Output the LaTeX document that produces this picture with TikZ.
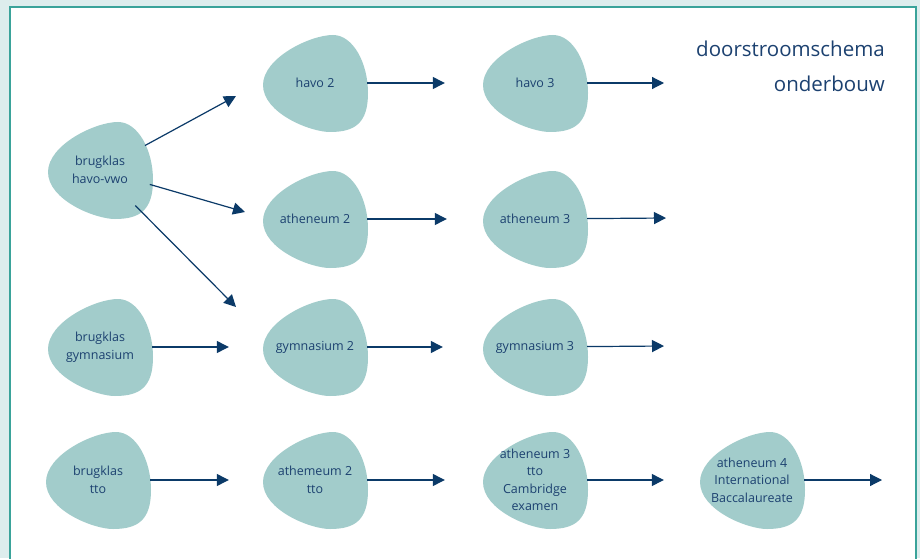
\documentclass[tikz,border=0pt]{standalone}
\usepackage{fontspec}
\setmainfont{Open Sans}
\usetikzlibrary{arrows.meta,shapes.geometric,backgrounds}

\definecolor{outerbg}{HTML}{DDEDED}
\definecolor{framecol}{HTML}{3AA39A}
\definecolor{blobfill}{HTML}{A2CCCB}
\definecolor{textblue}{HTML}{1C4170}
\definecolor{arrowblue}{HTML}{0B3A68}

\tikzset{
  blob/.style={ellipse, minimum width=104pt, minimum height=96pt, inner sep=0pt,
    inner xsep=-16pt, align=center, text=textblue, font=\fontsize{12.5}{17.5}\selectfont},
  flow/.style={-{Triangle[length=12pt,width=12pt]}, draw=arrowblue, line width=1.2pt},
  title/.style={anchor=base east, inner sep=0pt, text=textblue,
    font=\fontsize{20.5}{24}\selectfont}
}

\begin{document}
\begin{tikzpicture}[x=1pt, y=1pt]

    \useasboundingbox (0,0) rectangle (920,558);

    \node[title] (ttl) at (885,501) {doorstroomschema};
    \node[title] (ttl2) at (885,466) {onderbouw};

    \node[blob] (b1) at (100,388) {brugklas\\havo-vwo};
    \node[blob] (b2) at (100,211) {brugklas\\gymnasium};
    \node[blob] (b3) at (98,78) {brugklas\\tto};
    \node[blob] (h2) at (315,475) {havo 2};
    \node[blob] (a2) at (315,339) {atheneum 2};
    \node[blob] (g2) at (315,211) {gymnasium 2};
    \node[blob] (t2) at (315,78) {athemeum 2\\tto};
    \node[blob] (h3) at (535,475) {havo 3};
    \node[blob] (a3) at (535,339) {atheneum 3};
    \node[blob] (g3) at (535,211) {gymnasium 3};
    \node[blob] (t3) at (535,78) {atheneum 3\\tto\\Cambridge\\examen};
    \node[blob] (t4) at (752,78) {atheneum 4\\International\\Baccalaureate};

    \coordinate (d1) at (236,462);
    \coordinate (d2) at (245,346);
    \coordinate (d3) at (236,251);
    \coordinate (e1) at (664,475);
    \coordinate (e2) at (666,340);
    \coordinate (e3) at (664,212);
    \coordinate (e4) at (882,78);

    % frame and blobs behind the text
    \begin{scope}[on background layer]
      \fill[outerbg] (0,0) rectangle (920,558);
      \draw[framecol, line width=2pt, fill=white] (10,-5) rectangle (916,551);
      \foreach \n in {b1,b2,b3,h2,a2,g2,t2,h3,a3,g3,t3,t4}
        \fill[blobfill, shift={(\n)}] (18,48) .. controls (38,48) and (53,20) .. (53,-10)
          .. controls (53,-40) and (40,-49) .. (15,-49)
          .. controls (-5,-49) and (-52,-30) .. (-52,-2)
          .. controls (-52,25) and (-5,48) .. (18,48) -- cycle;
    \end{scope}

    \draw [flow] (b1) to (d1);
    \draw [flow] (b1) to (d2);
    \draw [flow] (b1) to (d3);
    \draw [flow, shorten >=34pt] (b2) to (g2);
    \draw [flow, shorten >=34pt] (b3) to (t2);
    \draw [flow, shorten >=38pt] (h2) to (h3);
    \draw [flow, shorten >=36pt] (a2) to (a3);
    \draw [flow, shorten >=40pt] (g2) to (g3);
    \draw [flow, shorten >=38pt] (t2) to (t3);
    \draw [flow, shorten >=36pt] (t3) to (t4);
    \draw [flow] (h3) to (e1);
    \draw [flow] (a3) to (e2);
    \draw [flow] (g3) to (e3);
    \draw [flow] (t4) to (e4);

  \end{tikzpicture}
\end{document}
